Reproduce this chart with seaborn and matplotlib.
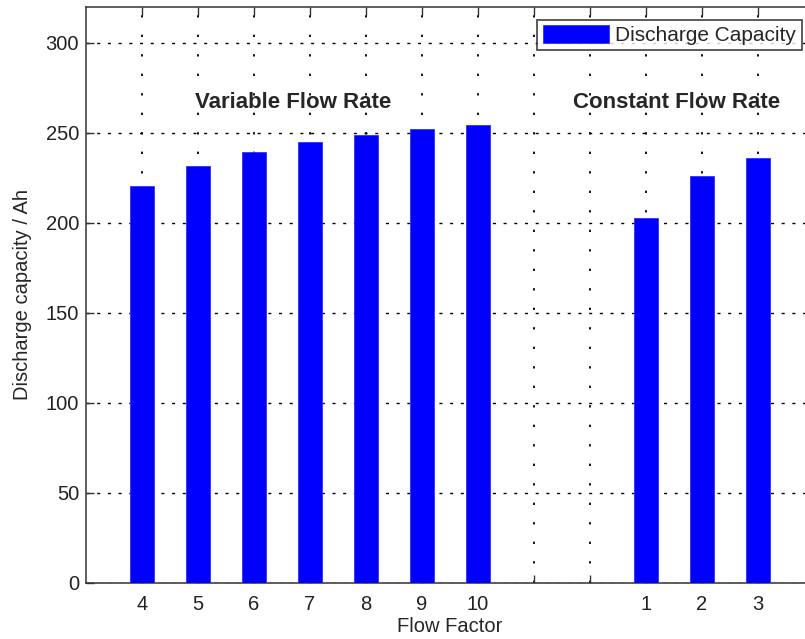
import pandas as pd
import matplotlib
matplotlib.use("Agg")
import matplotlib.pyplot as plt
import seaborn as sns

# dane
variable_factors = [4, 5, 6, 7, 8, 9, 10]
variable_capacity = [220.7, 231.5, 239.6, 244.8, 248.7, 252.1, 254.6]
constant_factors = [1, 2, 3]
constant_capacity = [203.0, 226.3, 235.9]

# pozycje na osi x: 1..7 zmienny, 8-9 przerwa, 10..12 staly
positions = list(range(1, 8)) + [10, 11, 12]
tick_labels = [str(f) for f in variable_factors] + ["", ""] + [str(f) for f in constant_factors]

df = pd.DataFrame({
    "pos": positions,
    "cap": variable_capacity + constant_capacity,
})

sns.set_style("white")
plt.rcParams["font.family"] = ["Liberation Sans", "DejaVu Sans"]

fig = plt.figure(figsize=(8.05, 6.39), dpi=100)
ax = fig.add_axes([86 / 805, (639 - 583) / 639, (814 - 86) / 805, (583 - 7) / 639])

sns.barplot(data=df, x="pos", y="cap", native_scale=True, width=0.43,
            color="#0000ff", edgecolor="#3030ff", linewidth=0.6, saturation=1,
            label="Discharge Capacity", ax=ax, zorder=3)

ax.set_xlim(0, 13)
ax.set_ylim(0, 320)
ax.set_xticks(range(1, 13))
ax.set_xticklabels(tick_labels)
ax.set_yticks(range(0, 301, 50))

ax.set_axisbelow(True)
ax.grid(axis="y", color="black", linestyle=(0, (2.2, 5.5)), linewidth=1.0)
ax.grid(axis="x", color="black", linestyle=(0, (1.3, 9.5)), linewidth=1.3)

for s in ax.spines.values():
    s.set_color("#333333")
    s.set_linewidth(1.1)

ax.tick_params(direction="in", length=6, width=1, colors="#333333",
               bottom=True, left=True, top=True, right=True, labelsize=14.5)
ax.tick_params(axis="x", pad=9, labelcolor="#222222")
ax.tick_params(axis="y", pad=5, labelcolor="#222222")

ax.set_xlabel("Flow Factor", fontsize=14.5, labelpad=2)
ax.set_ylabel("Discharge capacity / Ah", fontsize=14.5, labelpad=10)

ax.text(3.7, 267, "Variable Flow Rate", fontsize=16, fontweight="bold",
        ha="center", va="center")
ax.text(10.55, 267, "Constant Flow Rate", fontsize=16, fontweight="bold",
        ha="center", va="center")

leg = ax.legend(loc="upper right", fontsize=15, frameon=True, fancybox=False,
                handlelength=3.2, handleheight=1.0, handletextpad=0.3,
                borderpad=0.25, borderaxespad=0.6)
leg.get_frame().set_edgecolor("#222222")
leg.get_frame().set_linewidth(1.3)

fig.savefig("out.png", dpi=100)
